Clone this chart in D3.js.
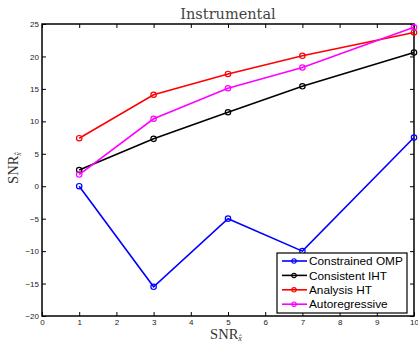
<!DOCTYPE html>
<html>
<head>
<meta charset="utf-8">
<script src="https://cdn.jsdelivr.net/npm/d3@7"></script>
<style>
  body { margin: 0; background: #fff; }
  svg text { font-family: "Liberation Sans", Arial, sans-serif; }
</style>
</head>
<body>
<div id="chart"></div>
<script>
var xValues = [1, 3, 5, 7, 10];
var constrainedOMP = [0, -15.5, -5, -10, 7.5];
var consistentIHT = [2.5, 7.3, 11.4, 15.4, 20.6];
var analysisHT = [7.4, 14.1, 17.3, 20.1, 23.7];
var autoregressive = [1.8, 10.4, 15.1, 18.3, 24.5];
var seriesNames = ["Constrained OMP", "Consistent IHT", "Analysis HT", "Autoregressive"];
var seriesColors = ["#0000ff", "#000000", "#ff0000", "#ff00ff"];
var xTicks = [0, 1, 2, 3, 4, 5, 6, 7, 8, 9, 10];
var yTicks = [-20, -15, -10, -5, 0, 5, 10, 15, 20, 25];

var series = [constrainedOMP, consistentIHT, analysisHT, autoregressive];

var chartWidth = 418, chartHeight = 343,
    margin = {top: 24, right: 4, bottom: 27, left: 42},
    width = chartWidth - margin.left - margin.right,
    height = chartHeight - margin.top - margin.bottom;

var svg = d3.select("#chart").append("svg")
    .attr("width", chartWidth)
    .attr("height", chartHeight);

var x = d3.scaleLinear().domain([0, 10]).range([0, width]),
    y = d3.scaleLinear().domain([-20, 25]).range([height, 0]);

var g = svg.append("g")
    .attr("transform", "translate(" + margin.left + "," + margin.top + ")");

function styleAxis(sel, showLabels) {
  sel.select(".domain").remove();
  sel.selectAll("line").attr("stroke", "#000");
  sel.selectAll("text").attr("font-size", "8px").attr("fill", "#222");
  if (!showLabels) sel.selectAll("text").remove();
}

var fmt = function(d) { return d < 0 ? "\u2212" + Math.abs(d) : d; };

g.append("g").attr("transform", "translate(0," + height + ")")
  .call(d3.axisBottom(x).tickValues(xTicks).tickSizeInner(-4).tickSizeOuter(0).tickPadding(3))
  .call(styleAxis, true);
g.append("g")
  .call(d3.axisTop(x).tickValues(xTicks).tickSizeInner(-4).tickSizeOuter(0))
  .call(styleAxis, false);
g.append("g")
  .call(d3.axisLeft(y).tickValues(yTicks).tickSizeInner(-4).tickSizeOuter(0).tickPadding(3).tickFormat(fmt))
  .call(styleAxis, true);
g.append("g").attr("transform", "translate(" + width + ",0)")
  .call(d3.axisRight(y).tickValues(yTicks).tickSizeInner(-4).tickSizeOuter(0))
  .call(styleAxis, false);

g.append("rect")
  .attr("width", width).attr("height", height)
  .attr("fill", "none").attr("stroke", "#000").attr("stroke-width", 1.5);

var line = d3.line()
  .x(function(d, i) { return x(xValues[i]); })
  .y(function(d) { return y(d); });

series.forEach(function(s, k) {
  g.append("path")
    .datum(s)
    .attr("fill", "none")
    .attr("stroke", seriesColors[k])
    .attr("stroke-width", 1.6)
    .attr("d", line);
  g.selectAll(".pt" + k)
    .data(s)
    .enter().append("circle")
      .attr("class", "pt" + k)
      .attr("cx", function(d, i) { return x(xValues[i]); })
      .attr("cy", function(d) { return y(d); })
      .attr("r", 2.7)
      .attr("fill", "none")
      .attr("stroke", seriesColors[k])
      .attr("stroke-width", 1.2);
});

// legend, lower right corner
var lg = g.append("g").attr("transform", "translate(" + (width - 137) + "," + (height - 63) + ")");
lg.append("rect")
  .attr("width", 130).attr("height", 60)
  .attr("fill", "#fff").attr("stroke", "#000").attr("stroke-width", 1.2);
seriesNames.forEach(function(name, k) {
  var yy = 8 + k * 14.4;
  lg.append("line")
    .attr("x1", 5).attr("x2", 30).attr("y1", yy).attr("y2", yy)
    .attr("stroke", seriesColors[k]).attr("stroke-width", 1.6);
  lg.append("circle")
    .attr("cx", 17).attr("cy", yy).attr("r", 2.2)
    .attr("fill", "none").attr("stroke", seriesColors[k]).attr("stroke-width", 1.1);
  lg.append("text")
    .attr("x", 32).attr("y", yy).attr("dy", "0.36em")
    .attr("font-size", "11.8px").attr("fill", "#000")
    .text(name);
});

// title and axis labels
svg.append("text")
  .attr("x", margin.left + width / 2).attr("y", 19)
  .attr("text-anchor", "middle")
  .style("font-family", "'DejaVu Serif', 'Liberation Serif', serif")
  .attr("font-size", "14.5px").attr("fill", "#444")
  .text("Instrumental");

var xl = svg.append("text")
  .attr("x", margin.left + width / 2 - 2).attr("y", 339)
  .attr("text-anchor", "middle")
  .style("font-family", "'Liberation Serif', serif")
  .attr("font-size", "14.5px").attr("fill", "#333");
xl.append("tspan").text("SNR");
xl.append("tspan").attr("font-size", "8px").attr("dy", 2).style("font-style", "italic").text("x\u0302");

var yl = svg.append("text")
  .attr("transform", "translate(18,168) rotate(-90)")
  .attr("text-anchor", "middle")
  .style("font-family", "'Liberation Serif', serif")
  .attr("font-size", "14.5px").attr("fill", "#333");
yl.append("tspan").text("SNR");
yl.append("tspan").attr("font-size", "8px").attr("dy", 3).style("font-style", "italic").text("x\u0302");
</script>
</body>
</html>
